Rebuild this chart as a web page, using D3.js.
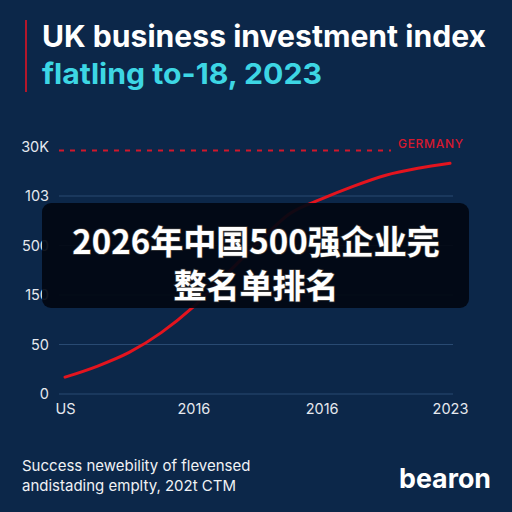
<!DOCTYPE html>
<html>
<head>
<meta charset="utf-8">
<script src="https://cdn.jsdelivr.net/npm/d3@7"></script>
<style>
  html, body { margin: 0; padding: 0; background: #0c2749; }
  svg { display: block; }
</style>
</head>
<body>
<script>
// chart values
var xLabels = ["US", "2016", "2016", "2023"];
var yTickValues = [0, 50, 100, 150, 200, 250];
var yTickLabels = ["0", "50", "150", "500", "103", "30K"];
var curveX = [0, 0.25, 0.5, 0.75, 1, 1.25, 1.5, 1.75, 2, 2.25, 2.5, 2.75, 3];
var curveY = [17, 28, 42, 62, 88, 120, 152, 182, 197, 210, 221, 228, 233];
var germanyValue = 246;
var germanyLabel = "GERMANY";

var width = 512, height = 512;
var font = "Inter, 'Open Sans', sans-serif";

var svg = d3.select("body").append("svg")
    .attr("width", width)
    .attr("height", height);

svg.append("rect")
    .attr("width", width)
    .attr("height", height)
    .attr("fill", "#0c2749");

// title block
svg.append("rect")
    .attr("x", 25)
    .attr("y", 20)
    .attr("width", 2)
    .attr("height", 72)
    .attr("fill", "#b3172b");

svg.append("text")
    .attr("x", 42)
    .attr("y", 47)
    .attr("fill", "#ffffff")
    .style("font-family", font)
    .style("font-weight", 700)
    .style("font-size", "30px")
    .attr("textLength", 444)
    .attr("lengthAdjust", "spacingAndGlyphs")
    .text("UK business investment index");

svg.append("text")
    .attr("x", 42)
    .attr("y", 84)
    .attr("fill", "#3dd6e4")
    .style("font-family", font)
    .style("font-weight", 700)
    .style("font-size", "29px")
    .attr("textLength", 280)
    .attr("lengthAdjust", "spacingAndGlyphs")
    .text("flatling to-18, 2023");

// scales
var x = d3.scaleLinear().domain([0, 3]).range([65, 450]);
var y = d3.scaleLinear().domain([0, 250]).range([394, 146.5]);

// gridlines
svg.append("g")
    .selectAll("line")
    .data(yTickValues.slice(0, 5))
    .enter()
    .append("line")
    .attr("x1", 59)
    .attr("x2", 453)
    .attr("y1", function (d) { return y(d) })
    .attr("y2", function (d) { return y(d) })
    .attr("stroke", "#294a72")
    .attr("stroke-width", 1);

// y axis labels
var yAxis = d3.axisLeft(y)
    .tickValues(yTickValues)
    .tickFormat(function (d, i) { return yTickLabels[i] })
    .tickSize(0)
    .tickPadding(0);

var yG = svg.append("g")
    .attr("transform", "translate(49,0)")
    .call(yAxis);
yG.select(".domain").remove();
yG.selectAll("text")
    .attr("fill", "#e6e9ef")
    .style("font-family", font)
    .style("font-size", "14.5px");

// x axis labels
var xAxis = d3.axisBottom(x)
    .tickValues(d3.range(xLabels.length))
    .tickFormat(function (d, i) { return xLabels[i] })
    .tickSize(0)
    .tickPadding(0);

var xG = svg.append("g")
    .attr("transform", "translate(0,404)")
    .call(xAxis);
xG.select(".domain").remove();
xG.selectAll("text")
    .attr("fill", "#e6e9ef")
    .style("font-family", font)
    .style("font-size", "14.5px");

// germany reference line
svg.append("line")
    .attr("x1", 59)
    .attr("x2", 391)
    .attr("y1", y(germanyValue))
    .attr("y2", y(germanyValue))
    .attr("stroke", "#d0182c")
    .attr("stroke-width", 2)
    .attr("stroke-dasharray", "5,6");

svg.append("text")
    .attr("x", 398)
    .attr("y", y(germanyValue) - 2)
    .attr("fill", "#d8182e")
    .style("font-family", font)
    .style("font-weight", 500)
    .style("font-size", "12px")
    .attr("textLength", 65)
    .text(germanyLabel);

// uk curve
var curveData = curveX.map(function (d, i) { return [d, curveY[i]] });
var line = d3.line()
    .x(function (d) { return x(d[0]) })
    .y(function (d) { return y(d[1]) })
    .curve(d3.curveMonotoneX);

svg.append("path")
    .datum(curveData)
    .attr("d", line)
    .attr("fill", "none")
    .attr("stroke", "#e3141e")
    .attr("stroke-width", 3)
    .attr("stroke-linecap", "round");

// overlay banner
svg.append("rect")
    .attr("x", 42)
    .attr("y", 203)
    .attr("width", 427)
    .attr("height", 105)
    .attr("rx", 9)
    .attr("fill", "#020812")
    .attr("fill-opacity", 0.93);

var bannerLines = ["2026年中国500强企业完", "整名单排名"];
svg.append("g")
    .selectAll("text")
    .data(bannerLines)
    .enter()
    .append("text")
    .attr("x", 256)
    .attr("y", function (d, i) { return 254 + i * 44 })
    .attr("text-anchor", "middle")
    .attr("fill", "#ffffff")
    .style("font-family", "'Noto Sans CJK SC', sans-serif")
    .style("font-weight", 700)
    .style("font-size", "33px")
    .style("paint-order", "stroke")
    .style("stroke", "#3a3a3a")
    .style("stroke-width", "1.5px")
    .text(function (d) { return d });

// footer
var footLines = ["Success newebility of flevensed", "andistading emplty, 202t CTM"];
svg.append("g")
    .selectAll("text")
    .data(footLines)
    .enter()
    .append("text")
    .attr("x", 22)
    .attr("y", function (d, i) { return 471 + i * 20 })
    .attr("fill", "#f0f2f5")
    .style("font-family", font)
    .style("font-size", "15px")
    .text(function (d) { return d });

svg.append("text")
    .attr("x", 399)
    .attr("y", 488)
    .attr("fill", "#ffffff")
    .style("font-family", font)
    .style("font-weight", 700)
    .style("font-size", "27px")
    .attr("textLength", 92)
    .attr("lengthAdjust", "spacingAndGlyphs")
    .text("bearon");
</script>
</body>
</html>
